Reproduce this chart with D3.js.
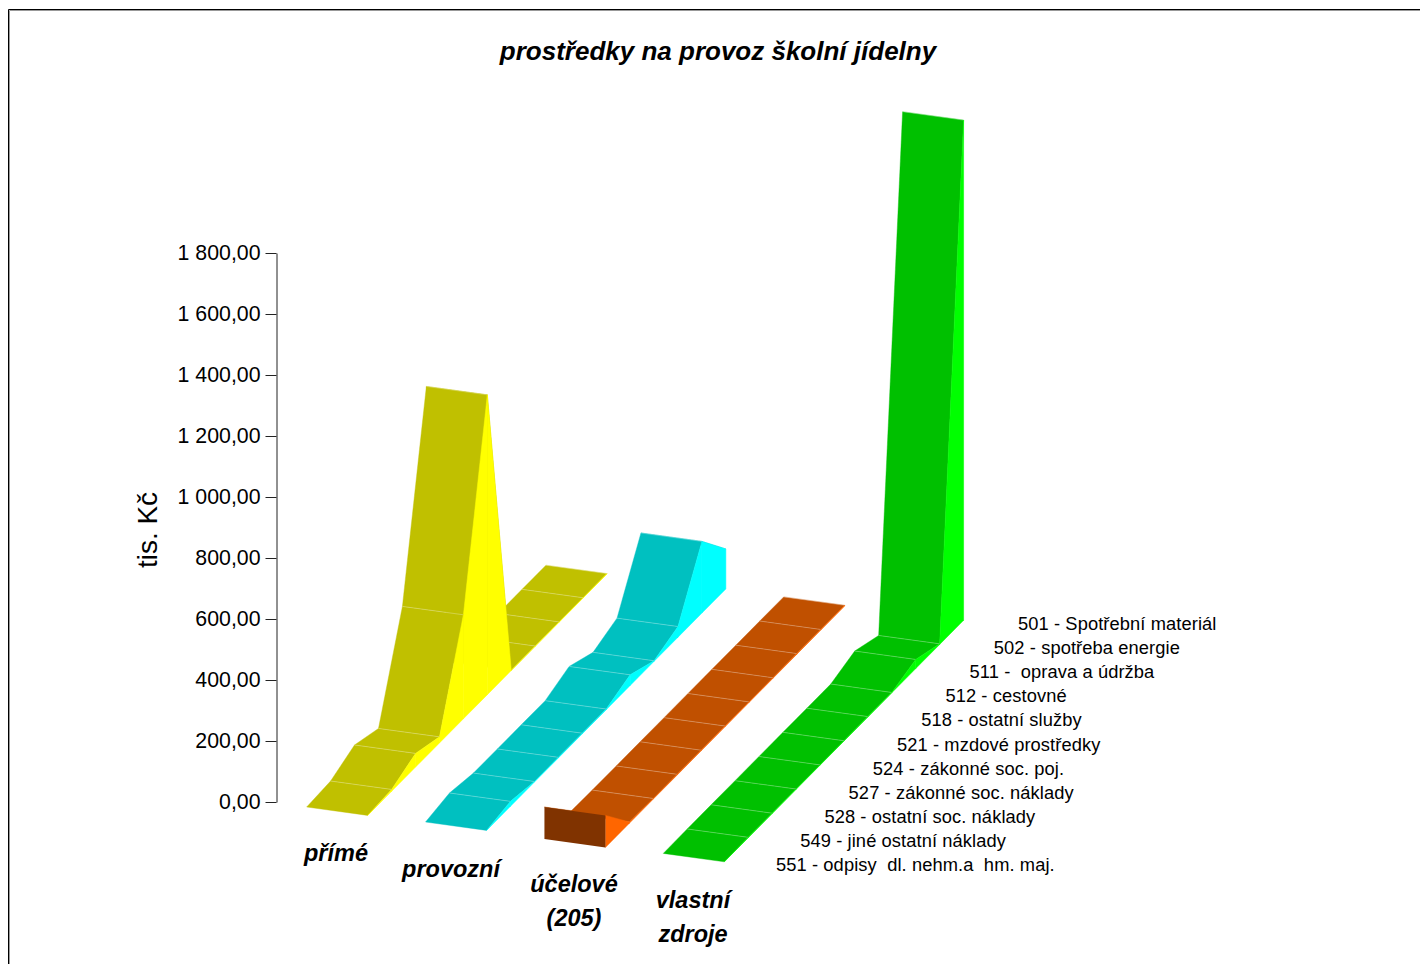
<!DOCTYPE html>
<html lang="cs">
<head>
<meta charset="utf-8">
<title>prostředky na provoz školní jídelny</title>
<script src="https://cdn.jsdelivr.net/npm/d3@7/dist/d3.min.js"></script>
<style>
  html, body { margin: 0; padding: 0; background: #fff; overflow: hidden; }
  svg { display: block; }
  text { font-family: "Liberation Sans", Arial, sans-serif; fill: #000; }
</style>
</head>
<body>
<svg id="chart" width="1420" height="964"></svg>
<script>
// Cost items, front of the chart to the back.
const items = [
  "551 - odpisy  dl. nehm.a  hm. maj.",
  "549 - jiné ostatní náklady",
  "528 - ostatní soc. náklady",
  "527 - zákonné soc. náklady",
  "524 - zákonné soc. poj.",
  "521 - mzdové prostředky",
  "518 - ostatní služby",
  "512 - cestovné",
  "511 -  oprava a údržba",
  "502 - spotřeba energie",
  "501 - Spotřební materiál"
];

// Funding sources, one ribbon each; a label may run over two lines.
const sourceLabels = [["přímé"], ["provozní"], ["účelové", "(205)"], ["vlastní", "zdroje"]];

// Values in thousands of CZK, same order as the items.
const prime     = [0, 6, 45, 20, 341, 983, 1, 1, 1, 1, 1];
const provozni  = [0, 16, 2, 2, 2, 2, 35, 2, 35, 235, 131];
const ucelove   = [105, 4, 2, 2, 2, 2, 2, 2, 2, 2, 2];
const vlastni   = [0, 1, 1, 1, 1, 1, 1, 1, 30, 2, 1640];
const seriesValues = [prime, provozni, ucelove, vlastni];

const topColors   = ["#C0C000", "#00C0C0", "#C05000", "#00C000"];
const sideColors  = ["#FFFF00", "#00FFFF", "#FF6600", "#00FF00"];
const frontColors = ["#808000", "#008080", "#803300", "#008000"];

const valueTicks = [0, 200, 400, 600, 800, 1000, 1200, 1400, 1600, 1800];

const svg = d3.select("#chart");
const czech = d3.formatLocale({ decimal: ",", thousands: " ", grouping: [3], currency: ["", " Kč"] });

// Oblique projection: value moves a point up, depth moves it up and right,
// ribbon index shifts it right and slightly down.
const yValue = d3.scaleLinear().domain([0, 1800]).range([802, 253]);
const depthX = d3.scaleLinear().domain([0, 10]).range([0, 239.3]);
const depthY = d3.scaleLinear().domain([0, 10]).range([0, -241.5]);
const ribbonX = d3.scaleLinear().domain([0, 3]).range([306.7, 663.3]);
const ribbonY = d3.scaleLinear().domain([0, 1, 2, 3]).range([807, 822, 839, 853.4]);
const ribbonWidth = { x: 61, y: 8.4 };

function project(s, i, v, edge) {
  return [
    ribbonX(s) + depthX(i) + edge * ribbonWidth.x,
    ribbonY(s) + depthY(i) + edge * ribbonWidth.y + yValue(v) - yValue(0)
  ];
}
const poly = pts => "M" + pts.map(p => p.map(n => n.toFixed(2)).join(",")).join("L") + "Z";

// Chart frame, running off the right and bottom of the page.
const frame = svg.append("g").attr("fill", "none");
frame.append("path").attr("d", "M9.5,964V10.5H1420").attr("stroke", "#999");
frame.append("path").attr("d", "M8.5,964V9.5H1420").attr("stroke", "#000");

// Title
svg.append("text")
  .attr("x", 718).attr("y", 60)
  .attr("text-anchor", "middle")
  .style("font", "italic bold 26px 'Liberation Sans', Arial, sans-serif")
  .text("prostředky na provoz školní jídelny");

// Value axis
const axis = svg.append("g")
  .attr("transform", "translate(276.5,0)")
  .call(d3.axisLeft(yValue)
    .tickValues(valueTicks)
    .tickFormat(czech.format(",.2f"))
    .tickSize(11).tickSizeOuter(0).tickPadding(5));
axis.selectAll("path, line").attr("stroke", "#222");
axis.selectAll("text").attr("font-size", 21.3).attr("font-family", "'Liberation Sans', Arial, sans-serif");

svg.append("text")
  .attr("transform", "translate(156.5,530) rotate(-90)")
  .attr("text-anchor", "middle")
  .attr("font-size", 28)
  .text("tis. Kč");

// Ribbons: each one is painted from its far end forward, so nearer segments cover farther ones.
seriesValues.forEach((values, s) => {
  const g = svg.append("g").attr("class", "ribbon");
  d3.range(values.length - 2, -1, -1).forEach(i => {
    const a = values[i], b = values[i + 1];
    g.append("path")
      .attr("d", poly([project(s, i, a, 0), project(s, i, a, 1), project(s, i + 1, b, 1), project(s, i + 1, b, 0)]))
      .attr("fill", topColors[s]).attr("stroke", topColors[s]).attr("stroke-width", 0.4);
    g.append("line")
      .attr("x1", project(s, i + 1, b, 0)[0]).attr("y1", project(s, i + 1, b, 0)[1])
      .attr("x2", project(s, i + 1, b, 1)[0]).attr("y2", project(s, i + 1, b, 1)[1])
      .attr("stroke", "#fff").attr("stroke-opacity", 0.28).attr("stroke-width", 1);
    g.append("path")
      .attr("d", poly([project(s, i, a, 1), project(s, i + 1, b, 1), project(s, i + 1, 0, 1), project(s, i, 0, 1)]))
      .attr("fill", sideColors[s]).attr("stroke", sideColors[s]).attr("stroke-width", 0.5);
  });
  if (values[0] > 0) {
    g.append("path")
      .attr("d", poly([project(s, 0, values[0], 0), project(s, 0, values[0], 1), project(s, 0, 0, 1), project(s, 0, 0, 0)]))
      .attr("fill", frontColors[s]);
  }
});

// Item names, stepping back along the depth axis.
const itemLabelX = d3.scaleLinear().domain([0, 10]).range([776, 1018]);
const itemLabelY = d3.scaleLinear().domain([0, 10]).range([871, 630]);
svg.append("g").selectAll("text").data(items).join("text")
  .attr("x", (d, i) => itemLabelX(i))
  .attr("y", (d, i) => itemLabelY(i))
  .attr("font-size", 18.3)
  .attr("letter-spacing", 0.1)
  .style("white-space", "pre")
  .text(d => d);

// Funding source names below the ribbons; the second one sits a little left of its slot.
const sourceLabelX = d3.scaleLinear().domain([0, 3]).range([336, 693]);
const sourceLabelY = d3.scaleLinear().domain([0, 3]).range([861, 908]);
const sourceLabelShift = [0, -4, 0, 0];
sourceLabels.forEach((lines, s) => {
  const t = svg.append("text")
    .attr("text-anchor", "middle")
    .style("font", "italic bold 23.5px 'Liberation Sans', Arial, sans-serif");
  lines.forEach((line, k) => {
    t.append("tspan")
      .attr("x", sourceLabelX(s) + sourceLabelShift[s])
      .attr("y", sourceLabelY(s) + k * 34)
      .text(line);
  });
});
</script>
</body>
</html>
